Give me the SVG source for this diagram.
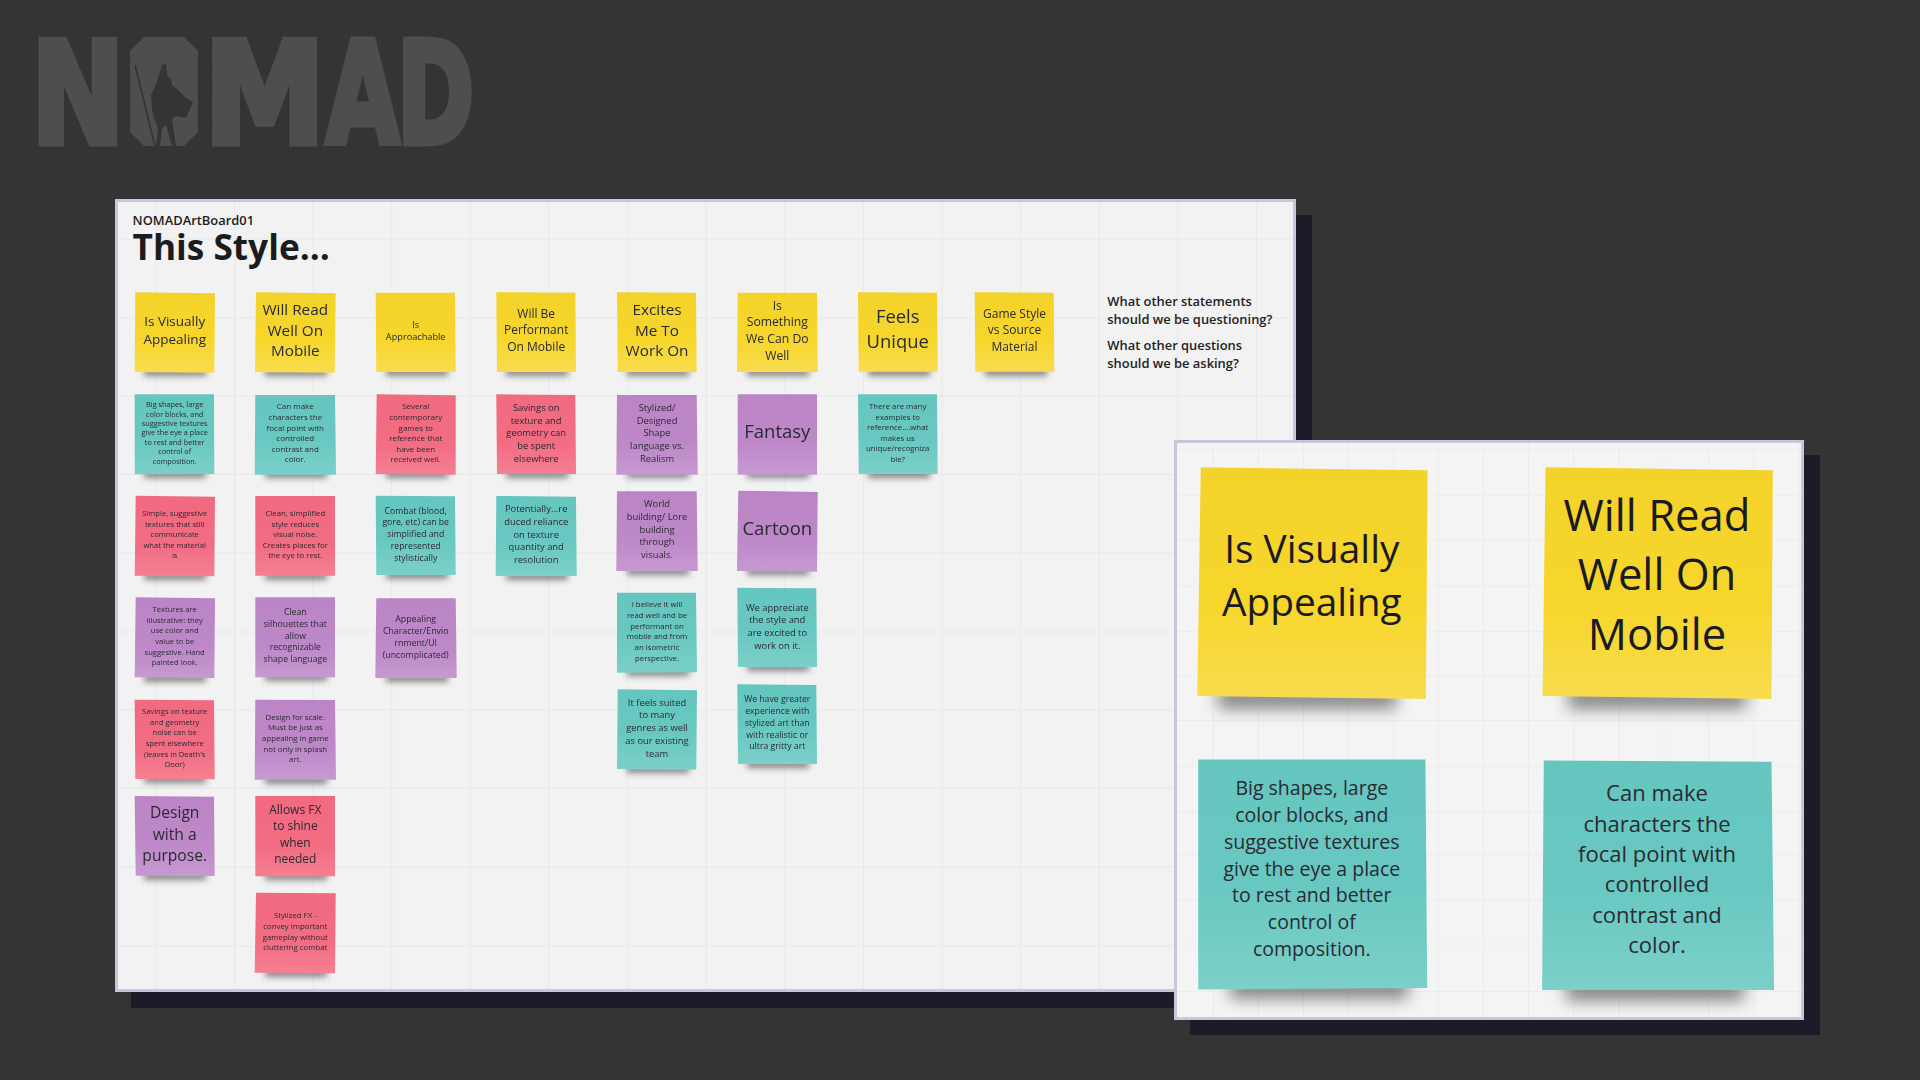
<svg xmlns="http://www.w3.org/2000/svg" width="1920" height="1080" viewBox="0 0 1920 1080">
<style>
text{font-family:"Open Sans","Noto Sans","DejaVu Sans",sans-serif}
.t{text-anchor:middle;fill:#2a2a32}
#stickies text{transform:translateY(1px);filter:url(#soft)}
.logo{font-family:"DejaVu Sans",sans-serif;font-weight:700;font-size:100px;fill:#4e4e50;stroke:#4e4e50;stroke-width:5}
.grid{fill:none;stroke:#e8e8ea;stroke-width:1}
.grid2{fill:none;stroke:#ececee;stroke-width:1}
.frame{stroke:#c8c5dc;stroke-width:3}
.y{fill:url(#gy)}.g{fill:url(#gt)}.r{fill:url(#gr)}.p{fill:url(#gp)}
.q{font-weight:600;font-size:12.9px;fill:#222}
</style>
<defs>
<linearGradient id="gy" x1="0" y1="0" x2="0" y2="1"><stop offset="0" stop-color="#f3d22a"/><stop offset=".6" stop-color="#f7d62c"/><stop offset="1" stop-color="#f8dc4e"/></linearGradient>
<linearGradient id="gt" x1="0" y1="0" x2="0" y2="1"><stop offset="0" stop-color="#65c6c0"/><stop offset=".55" stop-color="#68c8c1"/><stop offset="1" stop-color="#7bd0c9"/></linearGradient>
<linearGradient id="gr" x1="0" y1="0" x2="0" y2="1"><stop offset="0" stop-color="#f16a80"/><stop offset=".6" stop-color="#f26c82"/><stop offset="1" stop-color="#f57f92"/></linearGradient>
<linearGradient id="gp" x1="0" y1="0" x2="0" y2="1"><stop offset="0" stop-color="#bb84c6"/><stop offset=".6" stop-color="#bd88c8"/><stop offset="1" stop-color="#c699d1"/></linearGradient>
<filter id="soft" x="-5%" y="-5%" width="110%" height="110%"><feGaussianBlur stdDeviation=".3"/></filter>
<filter id="b3" x="-30%" y="-150%" width="160%" height="400%"><feGaussianBlur stdDeviation="3"/></filter>
<filter id="b7" x="-30%" y="-150%" width="160%" height="400%"><feGaussianBlur stdDeviation="8"/></filter>
<rect id="sh" width="62" height="8" fill="#000" fill-opacity=".45" filter="url(#b3)"/>
<rect id="shL" width="178" height="22" fill="#000" fill-opacity=".45" filter="url(#b7)"/>
</defs>
<rect width="1920" height="1080" fill="#343434"/>
<g id="logo">
<text class="logo" transform="translate(31,142.5) scale(1.12,1.4)">N</text>
<text class="logo" transform="translate(132,138) scale(.8,1.25)">O</text>
<polygon points="144,37 184,37 198,51 198,132 184,146 144,146 130,132 130,51" fill="#4e4e50"/>
<path d="M162,65L166,64L167,75L171,79L172,85L178,90L186,98L193,102L186,118L176,116L172,119L176,146L172,146L166,125L162,128L160,146L156,146L158,128L154,118L152,110L151,95L155,87L158,78Z" fill="#343434"/>
<path d="M135,65L155,146" stroke="#343434" stroke-width="1.6" fill="none"/>
<text class="logo" transform="translate(204,142.5) scale(1.22,1.4)">M</text>
<text class="logo" transform="translate(326,142.5) scale(.95,1.4)">A</text>
<text class="logo" transform="translate(397,142.5) scale(.93,1.4)">D</text>
</g>
<g id="board">
<rect x="131" y="215" width="1181" height="793" fill="#1c1c28"/>
<rect class="frame" x="116.5" y="200.5" width="1178" height="790" fill="#f2f2f3"/>
<path class="grid" d="M156 202V989M234.6 202V989M313.2 202V989M391.8 202V989M470.4 202V989M549 202V989M627.6 202V989M706.2 202V989M784.8 202V989M863.4 202V989M942 202V989M1020.6 202V989M1099.2 202V989M1177.8 202V989M1256.4 202V989M118 239H1293M118 318H1293M118 396H1293M118 474.5H1293M118 553H1293M118 632H1293M118 710H1293M118 788H1293M118 867H1293M118 946H1293"/>
<text id="board-name" x="132.6" y="225" font-size="12.9" font-weight="600" fill="#1c1c1e">NOMADArtBoard01</text>
<text id="board-title" x="132.6" y="260" font-size="35.2" font-weight="700" fill="#1c1c1e">This Style...</text>
<g id="questions">
<text class="q" x="1107.3" y="306">What other statements</text>
<text class="q" x="1107.3" y="324">should we be questioning?</text>
<text class="q" x="1107.3" y="350">What other questions</text>
<text class="q" x="1107.3" y="368">should we be asking?</text>
</g>
</g>
<g id="stickies">
<g id="s1"><use href="#sh" x="144" y="368"/><polygon class="y" points="135.3,292.3 215,293.3 214.3,372.7 134.7,372"/><text class="t" font-size="13.5" y="325"><tspan x="174.7">Is Visually</tspan><tspan x="174.7" dy="18">Appealing</tspan></text></g>
<g id="s2"><use href="#sh" x="144" y="470"/><polygon class="g" points="134.7,394.3 214,394.3 214.3,474 134.7,474.3"/><text class="t" font-size="7.3" y="406.2"><tspan x="174.7">Big shapes, large</tspan><tspan x="174.7" dy="9.4">color blocks, and</tspan><tspan x="174.7" dy="9.4">suggestive textures</tspan><tspan x="174.7" dy="9.4">give the eye a place</tspan><tspan x="174.7" dy="9.4">to rest and better</tspan><tspan x="174.7" dy="9.4">control of</tspan><tspan x="174.7" dy="9.4">composition.</tspan></text></g>
<g id="s3"><use href="#sh" x="144" y="572"/><polygon class="r" points="135.7,495.7 215,496.7 214.3,576.3 134.7,575.7"/><text class="t" font-size="7.6" y="515"><tspan x="174.7">Simple, suggestive</tspan><tspan x="174.7" dy="10.6">textures that still</tspan><tspan x="174.7" dy="10.6">communicate</tspan><tspan x="174.7" dy="10.6">what the material</tspan><tspan x="174.7" dy="10.6">is</tspan></text></g>
<g id="s4"><use href="#sh" x="144" y="674"/><polygon class="p" points="135.7,597.3 215,598.3 214.3,678 134.7,677.3"/><text class="t" font-size="7.6" y="611"><tspan x="174.7">Textures are</tspan><tspan x="174.7" dy="10.67">illustrative: they</tspan><tspan x="174.7" dy="10.67">use color and</tspan><tspan x="174.7" dy="10.67">value to be</tspan><tspan x="174.7" dy="10.67">suggestive. Hand</tspan><tspan x="174.7" dy="10.67">painted look.</tspan></text></g>
<g id="s5"><use href="#sh" x="144" y="775"/><polygon class="r" points="134.7,699.7 214,700.3 214.7,779.3 135.3,779"/><text class="t" font-size="7.6" y="713"><tspan x="174.7">Savings on texture</tspan><tspan x="174.7" dy="10.67">and geometry</tspan><tspan x="174.7" dy="10.67">noise can be</tspan><tspan x="174.7" dy="10.67">spent elsewhere</tspan><tspan x="174.7" dy="10.67">(leaves in Death's</tspan><tspan x="174.7" dy="10.67">Door)</tspan></text></g>
<g id="s6"><use href="#sh" x="144" y="872"/><polygon class="p" points="134.7,796 214,796.7 214.7,876 135.7,875.7"/><text class="t" font-size="15.6" y="817.4"><tspan x="174.7">Design</tspan><tspan x="174.7" dy="21.2">with a</tspan><tspan x="174.7" dy="21.2">purpose.</tspan></text></g>

<g id="s7"><use href="#sh" x="265" y="368"/><polygon class="y" points="256,292.3 335.7,293.3 334.7,372.7 255,372"/><text class="t" font-size="15.3" y="314"><tspan x="295.3">Will Read</tspan><tspan x="295.3" dy="20.7">Well On</tspan><tspan x="295.3" dy="20.7">Mobile</tspan></text></g>
<g id="s8"><use href="#sh" x="265" y="470"/><polygon class="g" points="255.3,395 335,395 336,474.7 254.7,474.7"/><text class="t" font-size="8" y="408.4"><tspan x="295.3">Can make</tspan><tspan x="295.3" dy="10.6">characters the</tspan><tspan x="295.3" dy="10.6">focal point with</tspan><tspan x="295.3" dy="10.6">controlled</tspan><tspan x="295.3" dy="10.6">contrast and</tspan><tspan x="295.3" dy="10.6">color.</tspan></text></g>
<g id="s9"><use href="#sh" x="265" y="572"/><polygon class="r" points="255.3,496 335,496 335,575.7 255.3,575.7"/><text class="t" font-size="7.8" y="515"><tspan x="295.3">Clean, simplified</tspan><tspan x="295.3" dy="10.6">style reduces</tspan><tspan x="295.3" dy="10.6">visual noise.</tspan><tspan x="295.3" dy="10.6">Creates places for</tspan><tspan x="295.3" dy="10.6">the eye to rest.</tspan></text></g>
<g id="s10"><use href="#sh" x="265" y="673"/><polygon class="p" points="255.3,597.3 335,597.3 335,677.3 255.3,677.3"/><text class="t" font-size="8.7" y="614"><tspan x="295.3">Clean</tspan><tspan x="295.3" dy="11.8">silhouettes that</tspan><tspan x="295.3" dy="11.8">allow</tspan><tspan x="295.3" dy="11.8">recognizable</tspan><tspan x="295.3" dy="11.8">shape language</tspan></text></g>
<g id="s11"><use href="#sh" x="265" y="776"/><polygon class="p" points="255.3,699.7 335,700 336,779.7 254.7,779.7"/><text class="t" font-size="7.8" y="718.6"><tspan x="295.3">Design for scale.</tspan><tspan x="295.3" dy="10.67">Must be just as</tspan><tspan x="295.3" dy="10.67">appealing in game</tspan><tspan x="295.3" dy="10.67">not only in splash</tspan><tspan x="295.3" dy="10.67">art.</tspan></text></g>
<g id="s12"><use href="#sh" x="265" y="872"/><polygon class="r" points="255.3,796 335,796 335,876.3 255.3,876.3"/><text class="t" font-size="12" y="812.6"><tspan x="295.3">Allows FX</tspan><tspan x="295.3" dy="16.5">to shine</tspan><tspan x="295.3" dy="16.5">when</tspan><tspan x="295.3" dy="16.5">needed</tspan></text></g>
<g id="s13"><use href="#sh" x="265" y="969"/><polygon class="r" points="256,892.7 335.7,893.3 335,973.3 254.7,972.7"/><text class="t" font-size="7.8" y="917.3"><tspan x="295.3">Stylized FX -</tspan><tspan x="295.3" dy="10.6">convey important</tspan><tspan x="295.3" dy="10.6">gameplay without</tspan><tspan x="295.3" dy="10.6">cluttering combat</tspan></text></g>

<g id="s14"><use href="#sh" x="386" y="368"/><polygon class="y" points="375.7,292.7 455,292.7 455.7,372 376.3,372"/><text class="t" font-size="9.2" y="326.5"><tspan x="415.7">Is</tspan><tspan x="415.7" dy="12.3">Approachable</tspan></text></g>
<g id="s15"><use href="#sh" x="386" y="470"/><polygon class="r" points="376.7,394.3 455.7,395.3 455.7,474.7 375.7,474"/><text class="t" font-size="8" y="408.4"><tspan x="415.7">Several</tspan><tspan x="415.7" dy="10.6">contemporary</tspan><tspan x="415.7" dy="10.6">games to</tspan><tspan x="415.7" dy="10.6">reference that</tspan><tspan x="415.7" dy="10.6">have been</tspan><tspan x="415.7" dy="10.6">received well.</tspan></text></g>
<g id="s16"><use href="#sh" x="386" y="571"/><polygon class="g" points="375.7,495.7 455,496.3 455.7,575 376.3,575"/><text class="t" font-size="8.7" y="512.6"><tspan x="415.7">Combat (blood,</tspan><tspan x="415.7" dy="11.8">gore, etc) can be</tspan><tspan x="415.7" dy="11.8">simplified and</tspan><tspan x="415.7" dy="11.8">represented</tspan><tspan x="415.7" dy="11.8">stylistically</tspan></text></g>
<g id="s17"><use href="#sh" x="386" y="674"/><polygon class="p" points="376.3,598.3 455.7,598.3 456.7,678 375.3,678"/><text class="t" font-size="8.8" y="620.6"><tspan x="415.7">Appealing</tspan><tspan x="415.7" dy="12">Character/Envio</tspan><tspan x="415.7" dy="12">rnment/UI</tspan><tspan x="415.7" dy="12">(uncomplicated)</tspan></text></g>

<g id="s18"><use href="#sh" x="506" y="368"/><polygon class="y" points="496.3,292.3 575.3,292.7 576,372 497,372"/><text class="t" font-size="12" y="317"><tspan x="536.2">Will Be</tspan><tspan x="536.2" dy="16.3">Performant</tspan><tspan x="536.2" dy="16.3">On Mobile</tspan></text></g>
<g id="s19"><use href="#sh" x="506" y="470"/><polygon class="r" points="496.3,394.3 575.3,395 576,474 497,474"/><text class="t" font-size="9.4" y="409.8"><tspan x="536.2">Savings on</tspan><tspan x="536.2" dy="12.75">texture and</tspan><tspan x="536.2" dy="12.75">geometry can</tspan><tspan x="536.2" dy="12.75">be spent</tspan><tspan x="536.2" dy="12.75">elsewhere</tspan></text></g>
<g id="s20"><use href="#sh" x="506" y="572"/><polygon class="g" points="496.3,496 576,496.7 576.7,576 495.7,576"/><text class="t" font-size="9.4" y="511"><tspan x="536.2">Potentially...re</tspan><tspan x="536.2" dy="12.75">duced reliance</tspan><tspan x="536.2" dy="12.75">on texture</tspan><tspan x="536.2" dy="12.75">quantity and</tspan><tspan x="536.2" dy="12.75">resolution</tspan></text></g>

<g id="s21"><use href="#sh" x="627" y="368"/><polygon class="y" points="617,292.3 696,292.7 696.7,372 617.7,372"/><text class="t" font-size="15.3" y="314"><tspan x="657">Excites</tspan><tspan x="657" dy="20.7">Me To</tspan><tspan x="657" dy="20.7">Work On</tspan></text></g>
<g id="s22"><use href="#sh" x="627" y="470"/><polygon class="p" points="617,395 696.7,395 697.7,474.7 616.3,474.7"/><text class="t" font-size="9.4" y="409.8"><tspan x="657">Stylized/</tspan><tspan x="657" dy="12.75">Designed</tspan><tspan x="657" dy="12.75">Shape</tspan><tspan x="657" dy="12.75">language vs.</tspan><tspan x="657" dy="12.75">Realism</tspan></text></g>
<g id="s23"><use href="#sh" x="627" y="567"/><polygon class="p" points="617,491.3 696.7,491.3 697.7,571 616.3,571"/><text class="t" font-size="9.4" y="506"><tspan x="657">World</tspan><tspan x="657" dy="12.8">building/ Lore</tspan><tspan x="657" dy="12.8">building</tspan><tspan x="657" dy="12.8">through</tspan><tspan x="657" dy="12.8">visuals.</tspan></text></g>
<g id="s24"><use href="#sh" x="627" y="668"/><polygon class="g" points="617,592.7 696,592.7 697,672.3 617,672.7"/><text class="t" font-size="7.8" y="606.3"><tspan x="657">I believe it will</tspan><tspan x="657" dy="10.67">read well and be</tspan><tspan x="657" dy="10.67">performant on</tspan><tspan x="657" dy="10.67">mobile and from</tspan><tspan x="657" dy="10.67">an isometric</tspan><tspan x="657" dy="10.67">perspective.</tspan></text></g>
<g id="s25"><use href="#sh" x="627" y="765"/><polygon class="g" points="617.7,689.3 697,690.3 696.3,769.7 617,769"/><text class="t" font-size="9.4" y="704.5"><tspan x="657">It feels suited</tspan><tspan x="657" dy="12.75">to many</tspan><tspan x="657" dy="12.75">genres as well</tspan><tspan x="657" dy="12.75">as our existing</tspan><tspan x="657" dy="12.75">team</tspan></text></g>

<g id="s26"><use href="#sh" x="747" y="368"/><polygon class="y" points="737.7,292.7 817,292.7 817.7,372 737,372"/><text class="t" font-size="12.2" y="308.7"><tspan x="777.3">Is</tspan><tspan x="777.3" dy="16.7">Something</tspan><tspan x="777.3" dy="16.7">We Can Do</tspan><tspan x="777.3" dy="16.7">Well</tspan></text></g>
<g id="s27"><use href="#sh" x="747" y="470"/><polygon class="p" points="737.7,394.3 817,394.3 817,474.7 737.7,474.7"/><text class="t" font-size="18.5" y="436.8" x="777.3">Fantasy</text></g>
<g id="s28"><use href="#sh" x="747" y="567"/><polygon class="p" points="738.3,490.7 817.7,492 817,571.7 737,571"/><text class="t" font-size="18.5" y="533.8" x="777.3">Cartoon</text></g>
<g id="s29"><use href="#sh" x="747" y="663"/><polygon class="g" points="737.3,587.7 816.3,588.3 817,667 738,667"/><text class="t" font-size="9.4" y="609.5"><tspan x="777.3">We appreciate</tspan><tspan x="777.3" dy="12.7">the style and</tspan><tspan x="777.3" dy="12.7">are excited to</tspan><tspan x="777.3" dy="12.7">work on it.</tspan></text></g>
<g id="s30"><use href="#sh" x="747" y="760"/><polygon class="g" points="737.3,684.3 816.3,685 817,764 738,764"/><text class="t" font-size="8.7" y="701.3"><tspan x="777.3">We have greater</tspan><tspan x="777.3" dy="11.75">experience with</tspan><tspan x="777.3" dy="11.75">stylized art than</tspan><tspan x="777.3" dy="11.75">with realistic or</tspan><tspan x="777.3" dy="11.75">ultra gritty art</tspan></text></g>

<g id="s31"><use href="#sh" x="868" y="368"/><polygon class="y" points="858,292.3 937,292.7 937.7,371.7 858.7,371.7"/><text class="t" font-size="18.4" y="322.2"><tspan x="897.7">Feels</tspan><tspan x="897.7" dy="25">Unique</tspan></text></g>
<g id="s32"><use href="#sh" x="868" y="470"/><polygon class="g" points="858,394.3 937,394.3 937.7,474 858.7,474"/><text class="t" font-size="7.8" y="408.3"><tspan x="897.7">There are many</tspan><tspan x="897.7" dy="10.53">examples to</tspan><tspan x="897.7" dy="10.53">reference....what</tspan><tspan x="897.7" dy="10.53">makes us</tspan><tspan x="897.7" dy="10.53">unique/recogniza</tspan><tspan x="897.7" dy="10.53">ble?</tspan></text></g>
<g id="s33"><use href="#sh" x="985" y="368"/><polygon class="y" points="974.7,292.3 1053.7,292.7 1054.3,371.7 975.3,371.7"/><text class="t" font-size="12" y="317"><tspan x="1014.5">Game Style</tspan><tspan x="1014.5" dy="16.3">vs Source</tspan><tspan x="1014.5" dy="16.3">Material</tspan></text></g>
</g>
<g id="inset">
<rect x="1190" y="455" width="630" height="580" fill="#1c1c28"/>
<rect class="frame" x="1175.5" y="441.5" width="627" height="577" fill="#f4f4f5"/>
<path class="grid2" d="M1213.3 443V1017M1258.4 443V1017M1303.6 443V1017M1348.7 443V1017M1394 443V1017M1438.4 443V1017M1483 443V1017M1528.6 443V1017M1573.7 443V1017M1618.8 443V1017M1664 443V1017M1709 443V1017M1754 443V1017M1799 443V1017M1177 450H1802M1177 495.2H1802M1177 540.7H1802M1177 586.2H1802M1177 631.7H1802M1177 676H1802M1177 720.6H1802M1177 766H1802M1177 811.6H1802M1177 855H1802M1177 900.5H1802M1177 944H1802M1177 991.5H1802"/>
<g id="z1"><use href="#shL" x="1218" y="687"/><polygon class="y" points="1200.8,467.2 1427.6,470.3 1425.9,698.9 1197.3,696.1"/><text class="t" font-size="38.8" y="562.5" style="fill:#1a1a22"><tspan x="1311.8">Is Visually</tspan><tspan x="1311.8" dy="53.4">Appealing</tspan></text></g>
<g id="z2"><use href="#shL" x="1568" y="687"/><polygon class="y" points="1545.6,467.2 1772.8,470.3 1771.5,698.9 1542.5,696.1"/><text class="t" font-size="43.6" y="530.5" style="fill:#1a1a22"><tspan x="1657">Will Read</tspan><tspan x="1657" dy="59.9">Well On</tspan><tspan x="1657" dy="59.9">Mobile</tspan></text></g>
<g id="z3"><use href="#shL" x="1230" y="977"/><polygon class="g" points="1198.2,759.4 1425.4,759.4 1427.2,987.9 1198.2,989.5"/><text class="t" font-size="19.5" y="795.4"><tspan x="1311.8">Big shapes, large</tspan><tspan x="1311.8" dy="26.7">color blocks, and</tspan><tspan x="1311.8" dy="26.7">suggestive textures</tspan><tspan x="1311.8" dy="26.7">give the eye a place</tspan><tspan x="1311.8" dy="26.7">to rest and better</tspan><tspan x="1311.8" dy="26.7">control of</tspan><tspan x="1311.8" dy="26.7">composition.</tspan></text></g>
<g id="z4"><use href="#shL" x="1566" y="979"/><polygon class="g" points="1543.8,760.6 1771.5,761.7 1774.1,989.9 1542.1,989.9"/><text class="t" font-size="22" y="801.4"><tspan x="1657">Can make</tspan><tspan x="1657" dy="30.3">characters the</tspan><tspan x="1657" dy="30.3">focal point with</tspan><tspan x="1657" dy="30.3">controlled</tspan><tspan x="1657" dy="30.3">contrast and</tspan><tspan x="1657" dy="30.3">color.</tspan></text></g>
</g>
</svg>
